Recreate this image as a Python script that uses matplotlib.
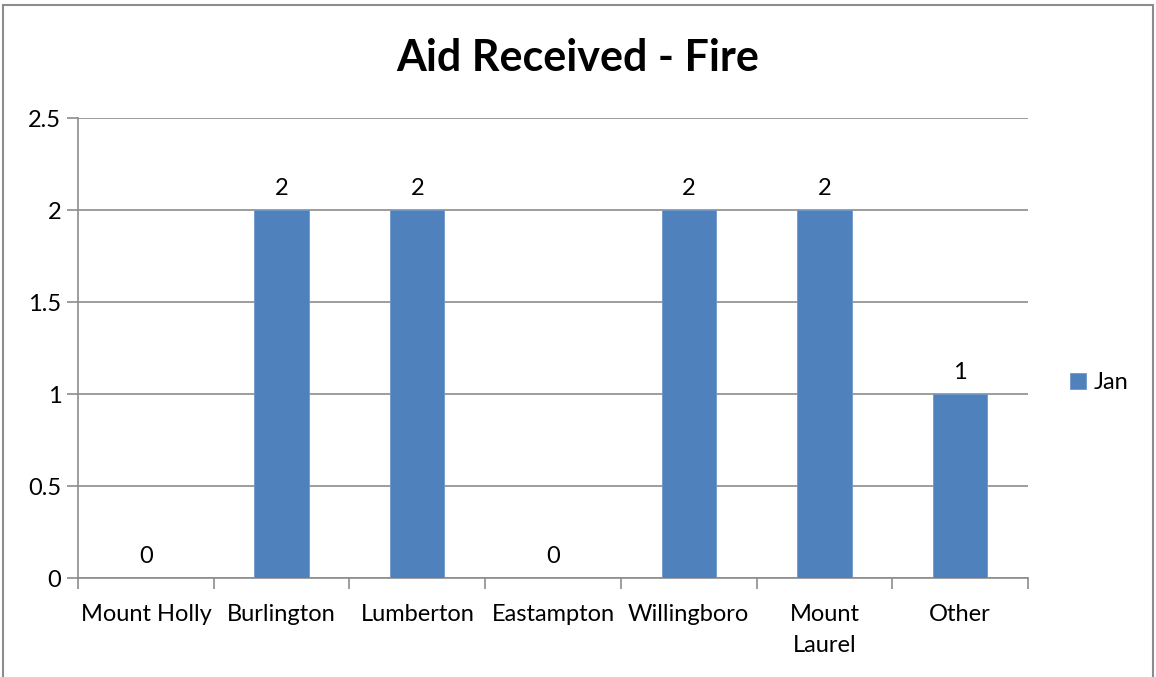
import numpy as np
import matplotlib.pyplot as plt
from matplotlib.patches import Rectangle

plt.rcParams['font.family'] = ['Lato', 'DejaVu Sans']

# data
towns = ['Mount Holly', 'Burlington', 'Lumberton', 'Eastampton', 'Willingboro', 'Mount\nLaurel', 'Other']
jan = [0, 2, 2, 0, 2, 2, 1]
yticks = [0, 0.5, 1, 1.5, 2, 2.5]
ytick_labels = ['0', '0.5', '1', '1.5', '2', '2.5']

fig = plt.figure(figsize=(11.56, 6.77), dpi=100)
ax = fig.add_axes([0.0675, 0.1462, 0.8218, 0.6795])

x = np.arange(len(towns))
bars = ax.bar(x, jan, width=0.4, color='#4F81BD', edgecolor='#6f97c9', linewidth=0.6,
              label='Jan', zorder=3)

for xi, v in zip(x, jan):
    ax.annotate(str(v), (xi, v), xytext=(0, 8), textcoords='offset points',
                ha='center', va='bottom', fontsize=17)

ax.set_xlim(-0.5, len(towns) - 0.5)
ax.set_ylim(0, 2.5)
ax.set_yticks(yticks)
ax.set_yticklabels(ytick_labels, fontsize=17)
ax.yaxis.grid(True, color='#8c8c8c', linewidth=1.2, zorder=0)

# labels in the middle, ticks on the category boundaries
ax.set_xticks(x)
ax.set_xticklabels(towns, fontsize=17, linespacing=1.55)
ax.tick_params(axis='x', length=0, pad=19)
ax.set_xticks(np.arange(len(towns) + 1) - 0.5, minor=True)
ax.tick_params(axis='x', which='minor', length=8, width=1.2, color='#8c8c8c', direction='out')
ax.tick_params(axis='y', length=8, width=1.2, color='#8c8c8c', pad=4)

for s in ['top', 'right']:
    ax.spines[s].set_visible(False)
for s in ['left', 'bottom']:
    ax.spines[s].set_color('#8c8c8c')
    ax.spines[s].set_linewidth(1.2)

fig.text(0.50, 0.914, 'Aid Received - Fire', ha='center', va='center',
         fontsize=31, fontweight='bold')

ax.legend(loc='center left', bbox_to_anchor=(1.044, 0.424), frameon=False, fontsize=17,
          handlelength=0.7, handleheight=0.7, handletextpad=0.3, borderaxespad=0,
          borderpad=0)

# outer chart border
fig.patches.append(Rectangle((0.003, -0.01), 0.994, 1.003, transform=fig.transFigure,
                             fill=False, edgecolor='#8c8c8c', linewidth=1.5))

plt.savefig('out.png', dpi=100)
